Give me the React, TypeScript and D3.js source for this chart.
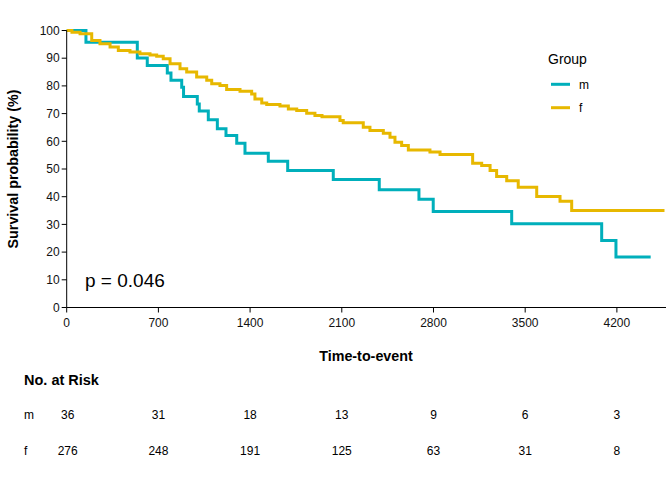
import React from "react";
import * as d3 from "d3";

const groups = ["m", "f"];
const groupColors = ["#00AFBB", "#E7B800"];

const mTime = [0, 147, 539, 615, 768, 796, 878, 892, 997, 1012, 1081, 1150, 1216, 1298, 1361, 1539, 1687, 2035, 2386, 2689, 2798, 3397, 4084, 4193, 4458];
const mSurv = [100, 95.8, 90.1, 87.4, 84.7, 82.0, 79.5, 76.2, 73.5, 70.9, 67.8, 64.5, 62.1, 59.3, 55.7, 52.8, 49.5, 46.2, 42.5, 39.1, 34.7, 30.2, 24.2, 18.2, 18.2];

const fTime = [0, 40, 102, 191, 254, 331, 394, 483, 559, 636, 687, 737, 789, 865, 916, 992, 1069, 1107, 1170, 1221, 1323, 1412, 1437, 1489, 1527, 1628, 1692, 1756, 1832, 1895, 1949, 2086, 2111, 2264, 2315, 2417, 2468, 2506, 2557, 2608, 2773, 2850, 3099, 3168, 3232, 3282, 3359, 3447, 3588, 3766, 3855, 4552];
const fSurv = [100, 99.4, 98.8, 96.4, 95.2, 94.0, 92.8, 92.2, 91.6, 91.2, 90.7, 89.8, 88.0, 86.2, 85.0, 83.2, 82.0, 80.8, 80.1, 78.7, 78.1, 77.1, 75.3, 73.8, 73.3, 72.7, 71.7, 71.1, 70.1, 69.3, 68.9, 67.5, 66.7, 65.1, 63.9, 62.9, 61.5, 59.7, 58.5, 56.9, 56.1, 55.2, 52.1, 51.3, 49.5, 47.3, 45.8, 43.4, 40.1, 38.4, 35.0, 34.5];

const xTicks = [0, 700, 1400, 2100, 2800, 3500, 4200];
const yTicks = [0, 10, 20, 30, 40, 50, 60, 70, 80, 90, 100];
const riskM = [36, 31, 18, 13, 9, 6, 3];
const riskF = [276, 248, 191, 125, 63, 31, 8];
const pText = "p = 0.046";

const FONT = "'Liberation Sans', Arial, Helvetica, sans-serif";

export default function App() {
  const W = 672, H = 480;
  const x = d3.scaleLinear().domain([0, 4575]).range([66.7, 666]);
  const y = d3.scaleLinear().domain([0, 100]).range([307.5, 30.5]);

  const line = d3
    .line<[number, number]>()
    .x((d) => x(d[0]))
    .y((d) => y(d[1]))
    .curve(d3.curveStepAfter);

  const series = [
    mTime.map((t, i) => [t, mSurv[i]] as [number, number]),
    fTime.map((t, i) => [t, fSurv[i]] as [number, number]),
  ];
  const riskRows = [riskM, riskF];
  const riskY = [419, 455];

  return (
    <svg
      width={W}
      height={H}
      viewBox={`0 0 ${W} ${H}`}
      style={{ position: "fixed", left: 0, top: 0, background: "#fff", fontFamily: FONT }}
    >
      <rect x={0} y={0} width={W} height={H} fill="#fff" />
      {series.map((s, i) => (
        <path key={groups[i]} d={line(s) || ""} fill="none" stroke={groupColors[i]} strokeWidth={3} strokeLinejoin="miter" />
      ))}
      <line x1={x(0)} x2={x(0)} y1={y(0)} y2={y(100)} stroke="#000" strokeWidth={1} />
      {yTicks.map((t) => (
        <g key={"y" + t}>
          <line x1={x(0) - 5} x2={x(0)} y1={y(t)} y2={y(t)} stroke="#000" strokeWidth={1} />
          <text x={x(0) - 7} y={y(t)} dy="0.35em" textAnchor="end" fontSize={12} fill="#111">
            {t}
          </text>
        </g>
      ))}
      <line x1={x(0)} x2={666} y1={y(0)} y2={y(0)} stroke="#000" strokeWidth={1} />
      {xTicks.map((t) => (
        <g key={"x" + t}>
          <line x1={x(t)} x2={x(t)} y1={y(0)} y2={y(0) + 5} stroke="#000" strokeWidth={1} />
          <text x={x(t)} y={y(0) + 19} textAnchor="middle" fontSize={12} fill="#111">
            {t}
          </text>
        </g>
      ))}
      <text
        transform={`translate(18,${(y(0) + y(100)) / 2}) rotate(-90)`}
        textAnchor="middle"
        fontSize={14.3}
        fontWeight="bold"
        fill="#000"
      >
        Survival probability (%)
      </text>
      <text x={366} y={361} textAnchor="middle" fontSize={14.3} fontWeight="bold" fill="#000">
        Time-to-event
      </text>
      <text x={85} y={287} fontSize={19} fill="#000">
        {pText}
      </text>
      <text x={548} y={64} fontSize={14} fill="#000">
        Group
      </text>
      {groups.map((g, i) => (
        <g key={"lg" + g}>
          <line x1={551} x2={570} y1={84.3 + i * 23.4} y2={84.3 + i * 23.4} stroke={groupColors[i]} strokeWidth={3} />
          <text x={579} y={84.3 + i * 23.4} dy="0.35em" fontSize={12} fill="#000">
            {g}
          </text>
        </g>
      ))}
      <text x={24} y={385} fontSize={14.5} fontWeight="bold" fill="#000">
        No. at Risk
      </text>
      {groups.map((g, i) => (
        <g key={"rk" + g}>
          <text x={24} y={riskY[i]} fontSize={12} fill="#000">
            {g}
          </text>
          {riskRows[i].map((n, j) => (
            <text key={j} x={x(xTicks[j]) + (j === 0 ? 1 : 0)} y={riskY[i]} textAnchor="middle" fontSize={12} fill="#000">
              {n}
            </text>
          ))}
        </g>
      ))}
    </svg>
  );
}
